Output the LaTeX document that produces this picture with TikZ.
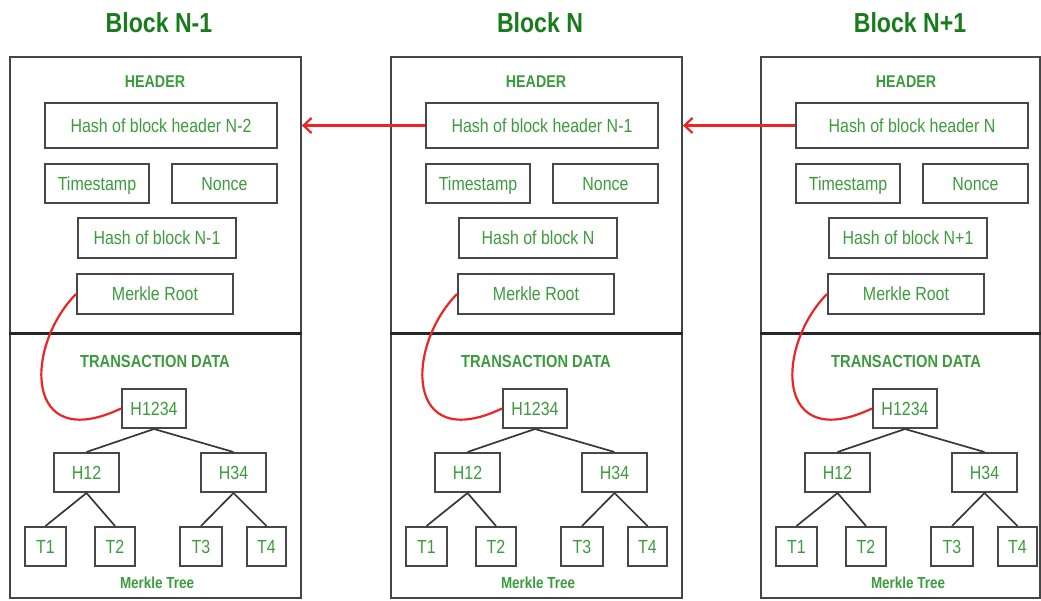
\documentclass[tikz,border=0pt]{standalone}
\usepackage{fontspec}
\setmainfont{Liberation Sans}[FakeStretch=0.84]
\usetikzlibrary{arrows.meta}
\definecolor{titlegreen}{RGB}{24,124,28}
\definecolor{txtgreen}{RGB}{60,155,60}
\definecolor{linkred}{RGB}{236,36,36}
\definecolor{edgegray}{RGB}{70,70,70}
\begin{document}
\begin{tikzpicture}[x=1pt,y=-1pt,
  blockbox/.style={draw=edgegray, line width=1.8pt, inner sep=0pt},
  field/.style={draw=black!72, line width=2pt, inner sep=0pt, text=txtgreen,
    font=\fontsize{19}{21}\selectfont, text height=13.6pt, text depth=0pt},
  secthead/.style={text=txtgreen, inner sep=0pt, font=\bfseries\fontsize{17}{19}\selectfont,
    text height=12.2pt, text depth=0pt},
  treelabel/.style={text=txtgreen, inner sep=0pt, font=\bfseries\fontsize{16}{18}\selectfont,
    text height=11.5pt, text depth=0pt},
  blocktitle/.style={text=titlegreen, inner sep=0pt, font=\bfseries\fontsize{27.5}{30}\selectfont,
    text height=19.7pt, text depth=0pt},
  treeline/.style={draw=black!78, line width=1.7pt},
  divider/.style={draw=black!85, line width=3pt},
  redlink/.style={draw=linkred, line width=2.2pt},
]
\useasboundingbox (0,0) rectangle (1041,601);
\foreach \i/\L/\W/\ttl/\prev/\cur in {1/10/291/N-1/N-2/N-1, 2/391/291/N/N-1/N, 3/761/279/N+1/N/N+1}{
  \node[blocktitle] (b\i-title) at (\L+149,23) {Block \ttl};
  \node[blockbox, minimum width=\W, minimum height=541] (b\i-box) at (\L+\W/2,327.5) {};
  \draw[divider] (b\i-box.west |- 0,334) -- (b\i-box.east |- 0,334);
  \node[secthead] (b\i-header) at (\L+145,81) {HEADER};
  \node[field, minimum width=232, minimum height=45] (b\i-hh) at (\L+151,125.5) {Hash of block header \prev};
  \node[field, minimum width=104, minimum height=39] (b\i-ts) at (\L+87,183.5) {Timestamp};
  \node[field, minimum width=105, minimum height=39] (b\i-nc) at (\L+214.5,183.5) {Nonce};
  \node[field, minimum width=158, minimum height=40] (b\i-hb) at (\L+147,238) {Hash of block \cur};
  \node[field, minimum width=156, minimum height=40] (b\i-mr) at (\L+145,294) {Merkle Root};
  \node[secthead, font=\bfseries\fontsize{17.5}{19}\selectfont] (b\i-td) at (\L+145,361) {TRANSACTION DATA};
  \node[field, minimum width=64, minimum height=39] (b\i-h1234) at (\L+144,408.5) {H1234};
  \node[field, minimum width=65, minimum height=39] (b\i-h12) at (\L+76.5,472.5) {H12};
  \node[field, minimum width=65, minimum height=39] (b\i-h34) at (\L+223.5,472.5) {H34};
  \node[field, minimum width=41, minimum height=39] (b\i-t1) at (\L+35.5,546.5) {T1};
  \node[field, minimum width=40, minimum height=39] (b\i-t2) at (\L+105,546.5) {T2};
  \node[field, minimum width=42, minimum height=39] (b\i-t3) at (\L+191,546.5) {T3};
  \node[field, minimum width=39, minimum height=39] (b\i-t4) at (\L+256.5,546.5) {T4};
  \node[treelabel] (b\i-mt) at (\L+147,583) {Merkle Tree};
  \draw[treeline] (b\i-h1234.south) -- (b\i-h12.north);
  \draw[treeline] (b\i-h1234.south) -- (b\i-h34.north);
  \draw[treeline] (b\i-h12.south) -- (b\i-t1.north);
  \draw[treeline] (b\i-h12.south) -- (b\i-t2.north);
  \draw[treeline] (b\i-h34.south) -- (b\i-t3.north);
  \draw[treeline] (b\i-h34.south) -- (b\i-t4.north);
  \draw[redlink] (b\i-mr.west) .. controls +(-52,53) and +(-97,46) .. (b\i-h1234.west);
}
\draw[redlink, -{Straight Barb[length=8pt,width=15pt]}] (b2-hh.west) -- (b1-box.east |- b2-hh.west);
\draw[redlink, -{Straight Barb[length=8pt,width=15pt]}] (b3-hh.west) -- (b2-box.east |- b3-hh.west);
\end{tikzpicture}
\end{document}
